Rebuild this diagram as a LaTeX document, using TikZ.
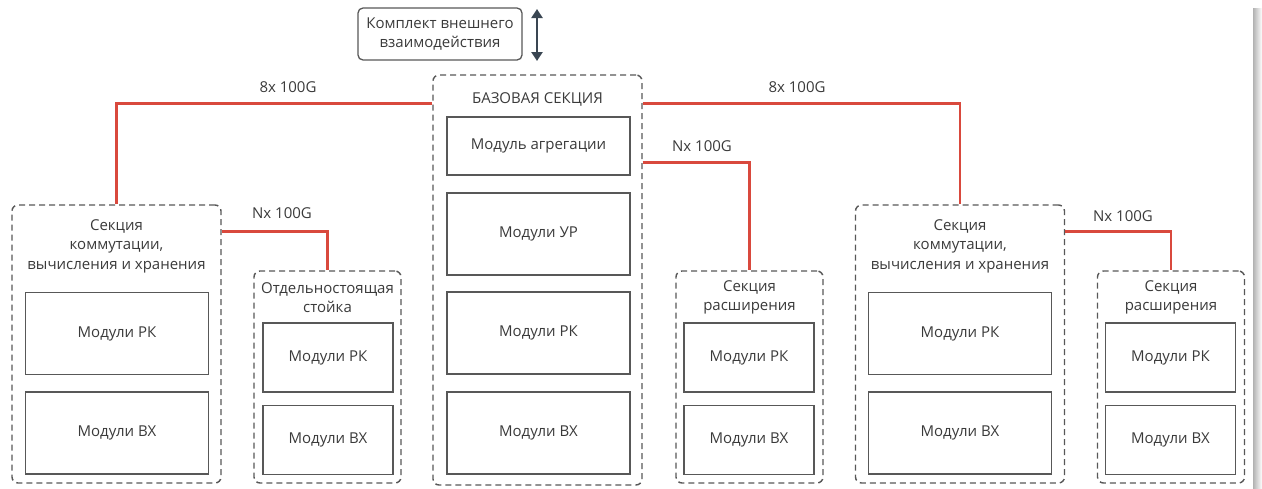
\documentclass[tikz,border=0pt]{standalone}
\usepackage{fontspec}
\setmainfont{Open Sans}
\usetikzlibrary{arrows.meta}
\definecolor{linkred}{HTML}{D9493D}
\definecolor{boxgray}{HTML}{585858}
\definecolor{txtgray}{HTML}{3A3A3A}
\definecolor{arrowgray}{HTML}{3A4652}
\tikzset{
section/.style=
    {draw=boxgray,
    dash pattern=on 6pt off 4pt,
    line width=1.4pt,
    rounded corners=6pt,
    inner sep=0pt
    },
module/.style=
    {draw=boxgray,
    line width=1.6pt,
    inner sep=0pt,
    text=txtgray,
    font=\fontsize{15}{18}\selectfont
    },
bigmod/.style={module, minimum width=183pt, minimum height=82pt},
smallmod/.style={module, minimum width=130pt, minimum height=69pt},
title/.style=
    {align=center,
    inner sep=0pt,
    text=txtgray,
    font=\fontsize{15}{19.5}\selectfont
    },
link/.style={draw=linkred, line width=2.5pt},
speed/.style={text=txtgray, inner sep=0pt, font=\fontsize{15}{18}\selectfont}
}

\begin{document}
\begin{tikzpicture}[x=1pt,y=-1pt]
\useasboundingbox (0,0) rectangle (1262,488);
\shade[left color=black!30, right color=white] (1253,8) rectangle (1262,488);

% external kit
\node[draw=boxgray, line width=1.3pt, rounded corners=5pt, minimum width=164pt,
  minimum height=52pt, title] (kit) at (440,34) {Комплект внешнего\\взаимодействия};
\coordinate (kitup) at (537,9);
\coordinate (kitdn) at (537,61);
\draw[arrowgray, line width=2.4pt, {Triangle[length=9pt,width=11pt]}-{Triangle[length=9pt,width=11pt]}] (kitup) -- (kitdn);

% base section
\node[section, minimum width=209pt, minimum height=410pt] (base) at (537.5,280) {};
\node[title] (baseT) at (537.5,99) {БАЗОВАЯ СЕКЦИЯ};
\node[module, minimum width=183pt, minimum height=58pt] (agg) at (538.5,146) {Модуль агрегации};
\node[bigmod] (ur) at (538.5,234) {Модули УР};
\node[bigmod] (bRK) at (538.5,333) {Модули РК};
\node[bigmod] (bVX) at (538.5,433) {Модули ВХ};

% left section
\node[section, minimum width=209pt, minimum height=278pt] (left) at (116.5,344) {};
\node[title] (leftT) at (116.5,246) {Секция\\коммутации,\\вычисления и хранения};
\node[bigmod] (lRK) at (117,333.5) {Модули РК};
\node[bigmod] (lVX) at (117,433) {Модули ВХ};

% standalone rack
\node[section, minimum width=147pt, minimum height=212pt] (rack) at (327.5,377) {};
\node[title] (rackT) at (327.5,297.5) {Отдельностоящая\\стойка};
\node[smallmod] (rRK) at (328,357.5) {Модули РК};
\node[smallmod] (rVX) at (328,440) {Модули ВХ};

% expansion 1
\node[section, minimum width=147pt, minimum height=212pt] (exp1) at (749.5,377) {};
\node[title] (exp1T) at (749.5,297.5) {Секция\\расширения};
\node[smallmod] (e1RK) at (749,357.5) {Модули РК};
\node[smallmod] (e1VX) at (749,440) {Модули ВХ};

% right section
\node[section, minimum width=209pt, minimum height=278pt] (right) at (960,344) {};
\node[title] (rightT) at (960,246) {Секция\\коммутации,\\вычисления и хранения};
\node[bigmod] (rgRK) at (960,333.5) {Модули РК};
\node[bigmod] (rgVX) at (960,433) {Модули ВХ};

% expansion 2
\node[section, minimum width=147pt, minimum height=212pt] (exp2) at (1171,377) {};
\node[title] (exp2T) at (1171,297.5) {Секция\\расширения};
\node[smallmod] (e2RK) at (1170.5,357.5) {Модули РК};
\node[smallmod] (e2VX) at (1170.5,440) {Модули ВХ};

% links
\draw[link] ([yshift=-29pt]base.north west) -| (left.north);
\draw[link] ([yshift=-29pt]base.north east) -| (right.north);
\draw[link] ([yshift=-88pt]base.north east) -| (exp1.north);
\draw[link] ([yshift=-27pt]left.north east) -| (rack.north);
\draw[link] ([yshift=-27pt]right.north east) -| (exp2.north);
\node[speed] (s1) at (288,87) {8x 100G};
\node[speed] (s2) at (797,87) {8x 100G};
\node[speed] (s3) at (702,146) {Nx 100G};
\node[speed] (s4) at (282,213) {Nx 100G};
\node[speed] (s5) at (1123,216) {Nx 100G};
\end{tikzpicture}
\end{document}
